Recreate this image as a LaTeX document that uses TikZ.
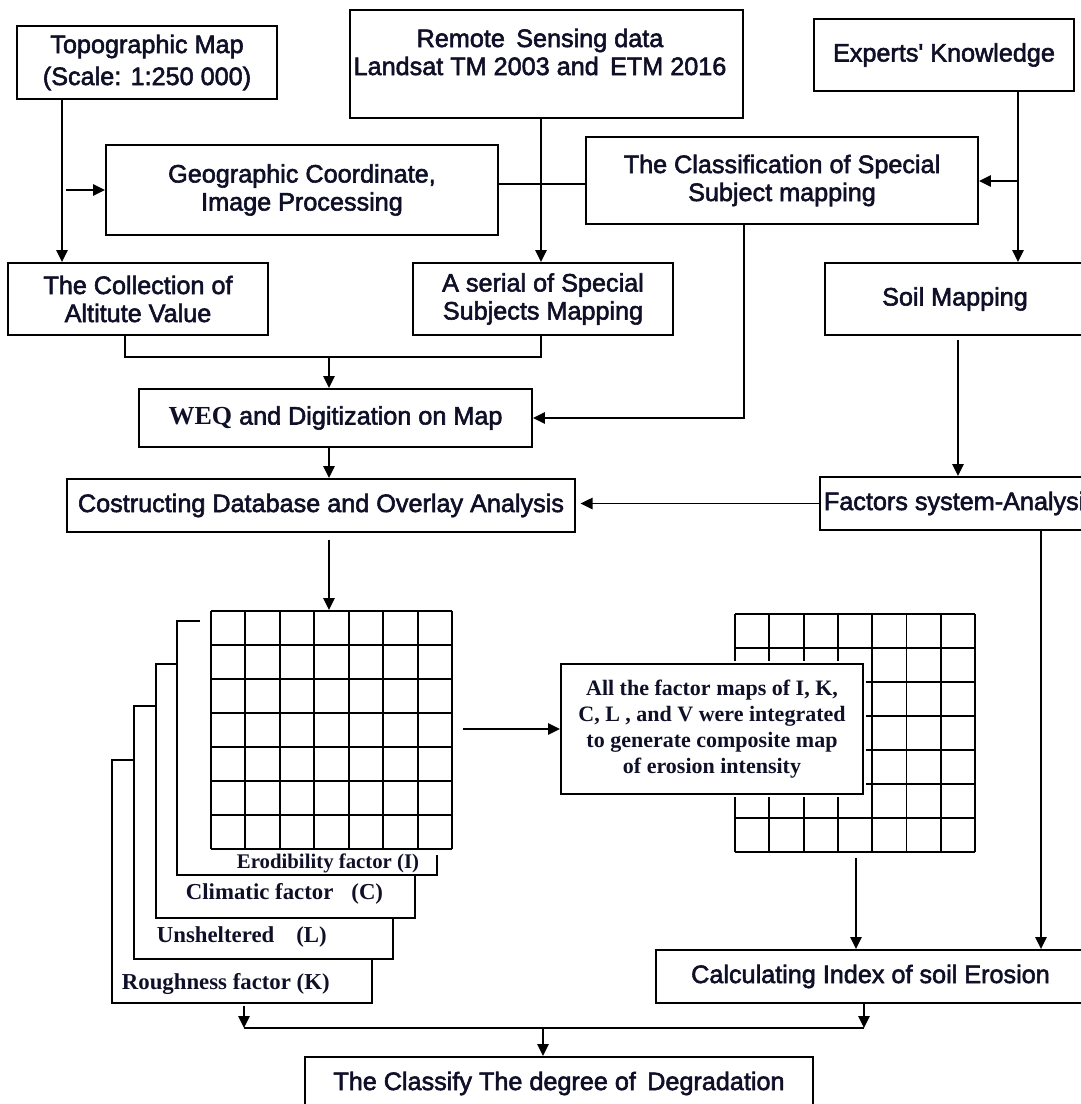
\documentclass[tikz,border=0pt]{standalone}
\usepackage{fontspec}
\usetikzlibrary{arrows.meta}
\newfontfamily\arl{Liberation Sans}[FakeBold=2.2]
\newfontfamily\tnr{Liberation Serif}
\definecolor{txt}{RGB}{15,15,40}
\begin{document}
\begin{tikzpicture}[x=0.75pt,y=-0.75pt, line width=1.4pt,
  box/.style={draw, fill=white, inner sep=0pt, align=center, text=txt,
    font=\arl\fontsize{18.9pt}{21pt}\selectfont},
  sans/.style={inner sep=0pt, align=center, text=txt, font=\arl\fontsize{18.9pt}{21pt}\selectfont},
  serb/.style={inner sep=0pt, text=txt, font=\tnr\bfseries\fontsize{17.1pt}{19.5pt}\selectfont},
  arr/.style={-{Triangle[length=9pt,width=8.5pt]}},
  gridnode/.style={inner sep=0pt, minimum width=#1}]
\useasboundingbox (0,0) rectangle (1081,1104);
\clip (0,0) rectangle (1081,1104);

% ---------- boxes ----------
\node[box, minimum width=195pt, minimum height=54.75pt] (topo) at (147,62.5)
  {Topographic Map\\[3pt](Scale: 1:250 000)};
\node[box, minimum width=294.75pt, minimum height=81pt] (rs) at (546.5,64) {};
\node[sans] (rsT) at (540,52)
  {Remote\hspace{0.45em}Sensing data\\Landsat TM 2003 and\hspace{0.45em}ETM 2016};
\node[box, minimum width=195pt, minimum height=54pt] (exp) at (944,55) {Experts' Knowledge};
\node[box, minimum width=294pt, minimum height=67.5pt] (geo) at (302,190)
  {Geographic Coordinate,\\Image Processing};
\node[box, minimum width=294pt, minimum height=65.25pt] (cls) at (782,180.5)
  {The Classification of Special\\Subject mapping};
\node[box, minimum width=195pt, minimum height=54pt] (coll) at (138,299)
  {The Collection of\\Altitute Value};
\node[box, minimum width=195pt, minimum height=54pt] (ser) at (543,299)
  {A serial of Special\\Subjects Mapping};
\node[box, minimum width=195pt, minimum height=54pt] (soil) at (955,299) {Soil Mapping};
\node[box, minimum width=294.75pt, minimum height=43.5pt] (weq) at (335.5,418)
  {{\tnr\bfseries\fontsize{19.5pt}{21pt}\selectfont WEQ} and Digitization on Map};
\node[box, minimum width=381pt, minimum height=39.75pt] (cons) at (321,505.5)
  {Costructing Database and Overlay Analysis};
\node[box, minimum width=198.75pt, minimum height=39.75pt] (fac) at (952.5,503.5) {};
\node[sans, anchor=west] (facT) at (823,503.5) {Factors system-Analysis};
\node[box, minimum width=321.75pt, minimum height=39.75pt] (calc) at (870.5,976.5)
  {Calculating Index of soil Erosion};
\node[box, minimum width=381pt, minimum height=39.75pt] (final) at (559,1083.5)
  {The Classify The degree of\hspace{0.45em}Degradation};

% ---------- left stack of factor layers ----------
\draw (134,760) -- (112,760) -- (112,1003) -- (372,1003) -- (372,959);
\draw (156,706) -- (134,706) -- (134,959) -- (393,959) -- (393,918);
\draw (177,664) -- (156,664) -- (156,918) -- (415,918) -- (415,875);
\draw (200,621) -- (177,621) -- (177,875) -- (437,875) -- (437,855);
\node[serb, anchor=west] (labK) at (121,984) {Roughness factor (K)};
\node[serb, anchor=west] (labL) at (156,937) {Unsheltered\hspace{16.5pt}(L)};
\node[serb, anchor=west] (labC) at (185,894) {Climatic factor\hspace{13.5pt}(C)};
\node[serb, anchor=west, font=\tnr\bfseries\fontsize{15.6pt}{18pt}\selectfont] (labI) at (236,863)
  {Erodibility factor (I)};

% ---------- grids ----------
\node[gridnode=180.75pt, minimum height=178.5pt] (gl) at (331.5,730) {};
\foreach \i in {0,...,7} {
  \draw (211+\i*34.43,611) -- (211+\i*34.43,849);
  \draw (211,611+\i*34) -- (452,611+\i*34);
}
\node[gridnode=180pt, minimum height=178.5pt] (gr) at (855,733) {};
\foreach \i in {0,...,7} {
  \draw (735+\i*34.29,614) -- (735+\i*34.29,852);
  \draw (735,614+\i*34) -- (975,614+\i*34);
}
\node[draw, fill=white, preaction={draw=white, line width=5pt}, inner sep=0pt,
  minimum width=226.5pt, minimum height=97.5pt, align=center, text=txt,
  font=\tnr\bfseries\fontsize{16.5pt}{19.5pt}\selectfont] (tb) at (712,729)
  {All the factor maps of I, K,\\C, L , and V were integrated\\to generate composite map\\of erosion intensity};

% ---------- coordinates ----------
\coordinate (geoIn) at (66,190);
\coordinate (jA) at (125,357);
\coordinate (jB) at (541,357);
\coordinate (jC) at (329,357);
\coordinate (eK) at (1018,181);
\coordinate (cB) at (744,418);
\coordinate (stk) at (244,1003);
\coordinate (jl) at (244,1028);
\coordinate (jr) at (864,1028);
\coordinate (jm) at (543,1028);

% ---------- connectors ----------
\draw[arr] (topo.south -| 62,0) -- (coll.north -| 62,0);
\draw[arr] (geoIn) -- (geo.west |- geoIn);
\draw (geo.east |- 0,184) -- (cls.west |- 0,184);
\draw[arr] (rs.south -| 541,0) -- (ser.north -| 541,0);
\draw[arr] (exp.south -| eK) -- (soil.north -| eK);
\draw[arr] (eK) -- (cls.east |- eK);
\draw (coll.south -| jA) -- (jA) -- (jB) -- (ser.south -| jB);
\draw[arr] (jC) -- (weq.north -| jC);
\draw[arr] (weq.south -| jC) -- (cons.north -| jC);
\draw[arr] (cls.south -| cB) -- (cB) -- (weq.east |- cB);
\draw[arr, shorten <=3pt] (soil.south -| 958,0) -- (fac.north -| 958,0);
\draw[arr, shorten >=3.5pt] (fac.west) -- (cons.east |- fac.west);
\draw[arr] (fac.south -| 1041,0) -- (calc.north -| 1041,0);
\draw[arr, shorten <=5pt] (cons.south -| jC) -- (gl.north -| jC);
\draw[arr, shorten <=7.5pt] (gl.east |- tb.west) -- (tb.west);
\draw[arr, shorten <=4pt] (gr.south -| 856,0) -- (calc.north -| 856,0);
\draw[arr, shorten <=2pt] (stk) -- (jl);
\draw (jl) -- (jr);
\draw[arr] (calc.south -| jr) -- (jr);
\draw[arr] (jm) -- (final.north -| jm);
\end{tikzpicture}
\end{document}
